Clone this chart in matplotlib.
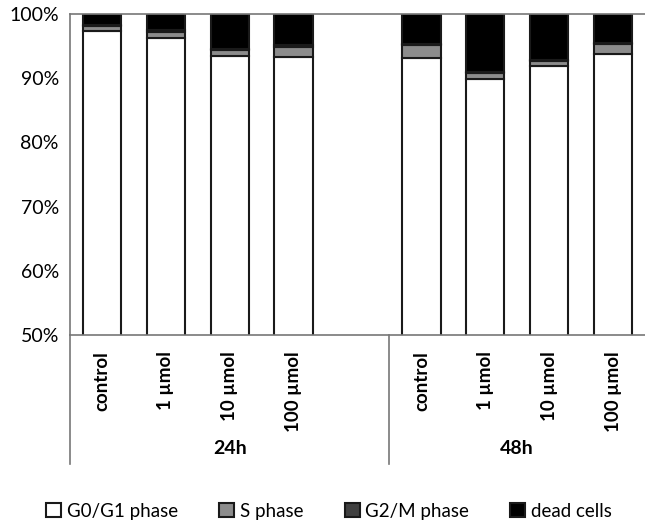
import matplotlib
matplotlib.use('Agg')
import matplotlib.pyplot as plt
import numpy as np

plt.rcParams['font.family'] = ['Lato', 'DejaVu Sans']

groups = ["24h", "48h"]
labels = ["control", "1 \u00b5mol", "10 \u00b5mol", "100 \u00b5mol"]
g0g1 = [97.3, 96.3, 93.5, 93.3, 93.2, 89.9, 91.9, 93.7]
s_phase = [0.8, 0.9, 0.9, 1.6, 1.9, 0.9, 0.8, 1.6]
g2m = [0.2, 0.3, 0.2, 0.3, 0.2, 0.2, 0.2, 0.2]
dead = [1.7, 2.5, 5.4, 4.8, 4.7, 9.0, 7.1, 4.5]

series = [("G0/G1 phase", g0g1, "white"),
          ("S phase", s_phase, "#8c8c8c"),
          ("G2/M phase", g2m, "#404040"),
          ("dead cells", dead, "black")]

# 24h bars in slots 0-3, slot 4 empty, 48h bars in slots 5-8
x = np.array([0, 1, 2, 3, 5, 6, 7, 8])

fig = plt.figure(figsize=(6.45, 5.27), dpi=100)
ax = fig.add_axes([0.1085, 0.364, 0.8915, 0.6094])

bottom = np.zeros(len(x))
for name, vals, col in series:
    ax.bar(x, vals, 0.6, bottom=bottom, color=col, edgecolor='#1a1a1a',
           linewidth=1.5, label=name)
    bottom += np.array(vals)

ax.set_ylim(50, 100)
ax.set_xlim(-0.5, 8.5)
ax.set_yticks(range(50, 101, 10))
ax.set_yticklabels([f"{v}%" for v in range(50, 101, 10)], fontsize=14)
ax.tick_params(axis='y', length=0, pad=8)
ax.set_xticks([])

for sp in ['top', 'bottom', 'left']:
    ax.spines[sp].set_color('#777777')
    ax.spines[sp].set_linewidth(1.2)
ax.spines['right'].set_visible(False)

# category labels
tr = ax.get_xaxis_transform()
for xi, lab in zip(x, labels * 2):
    ax.text(xi, -0.05, lab, transform=tr, rotation=90,
            ha='center', va='top', fontsize=13.5, fontweight='bold')

# group labels and separators
ax.plot([-0.5, -0.5], [0, -0.4], transform=tr, color='#777777', lw=1.2, clip_on=False)
ax.plot([4.5, 4.5], [0, -0.4], transform=tr, color='#777777', lw=1.2, clip_on=False)
ax.text(2.0, -0.353, groups[0], transform=tr, ha='center', va='center',
        fontsize=14, fontweight='bold')
ax.text(6.5, -0.353, groups[1], transform=tr, ha='center', va='center',
        fontsize=14, fontweight='bold')

fig.legend(loc='center', bbox_to_anchor=(0.51, 0.03), ncol=4, frameon=False,
           fontsize=13.5, handlelength=0.8, handleheight=0.8, handletextpad=0.3,
           columnspacing=2.2)

plt.savefig('out.png', dpi=100)
